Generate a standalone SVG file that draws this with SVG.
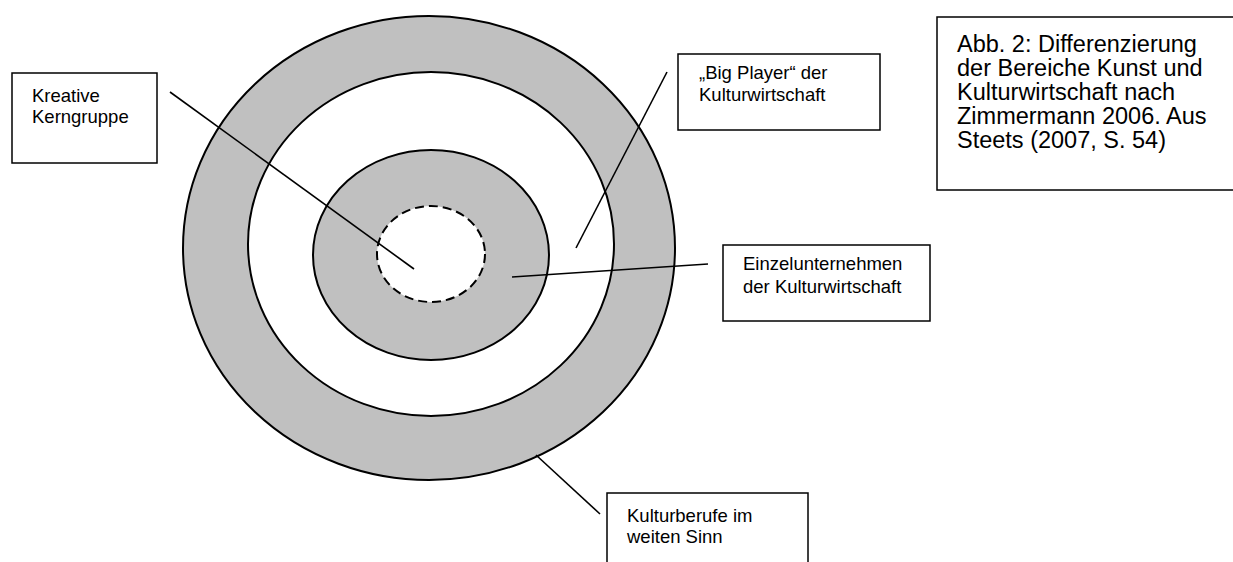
<svg xmlns="http://www.w3.org/2000/svg" width="1233" height="562" viewBox="0 0 1233 562">
<style>
.box{fill:#fff;stroke:#000;stroke-width:1.5}
.ring{stroke:#000;stroke-width:2}
.t{font-family:"Liberation Sans",Arial,sans-serif;font-size:18.5px;fill:#000}
.cap{font-family:"Liberation Sans",Arial,sans-serif;font-size:23.5px;fill:#000}
.con{stroke:#000;stroke-width:1.6;fill:none}
</style>
<rect width="1233" height="562" fill="#fff"/>
<g id="rings">
<ellipse class="ring" cx="429" cy="248" rx="246" ry="232" fill="#c0c0c0"/>
<ellipse class="ring" cx="431" cy="244" rx="183" ry="172" fill="#fff"/>
<ellipse class="ring" cx="431" cy="255" rx="118" ry="105" fill="#c0c0c0"/>
<ellipse cx="431" cy="254" rx="54" ry="48" fill="#fff" stroke="#000" stroke-width="2" stroke-dasharray="9,5"/>
</g>
<g id="connectors">
<line class="con" x1="170" y1="92" x2="414" y2="269"/>
<line class="con" x1="667" y1="72" x2="576" y2="248"/>
<line class="con" x1="512" y1="277" x2="708" y2="264"/>
<line class="con" x1="536" y1="455" x2="600" y2="514"/>
</g>
<g id="kreative">
<rect class="box" x="12" y="73" width="145" height="90"/>
<text class="t" x="32" y="102">Kreative</text>
<text class="t" x="32" y="123">Kerngruppe</text>
</g>
<g id="bigplayer">
<rect class="box" x="678" y="54" width="202" height="76"/>
<text class="t" x="699" y="79">„Big Player“ der</text>
<text class="t" x="699" y="101">Kulturwirtschaft</text>
</g>
<g id="einzel">
<rect class="box" x="723" y="245" width="207" height="76"/>
<text class="t" x="743" y="270">Einzelunternehmen</text>
<text class="t" x="743" y="293">der Kulturwirtschaft</text>
</g>
<g id="kulturberufe">
<rect class="box" x="607" y="493" width="201" height="90"/>
<text class="t" x="627" y="522">Kulturberufe im</text>
<text class="t" x="627" y="543">weiten Sinn</text>
</g>
<g id="caption">
<rect class="box" x="937" y="17" width="310" height="173"/>
<text class="cap" x="957" y="52">Abb. 2: Differenzierung</text>
<text class="cap" x="957" y="76">der Bereiche Kunst und</text>
<text class="cap" x="957" y="100">Kulturwirtschaft nach</text>
<text class="cap" x="957" y="124">Zimmermann 2006. Aus</text>
<text class="cap" x="957" y="148">Steets (2007, S. 54)</text>
</g>
</svg>
